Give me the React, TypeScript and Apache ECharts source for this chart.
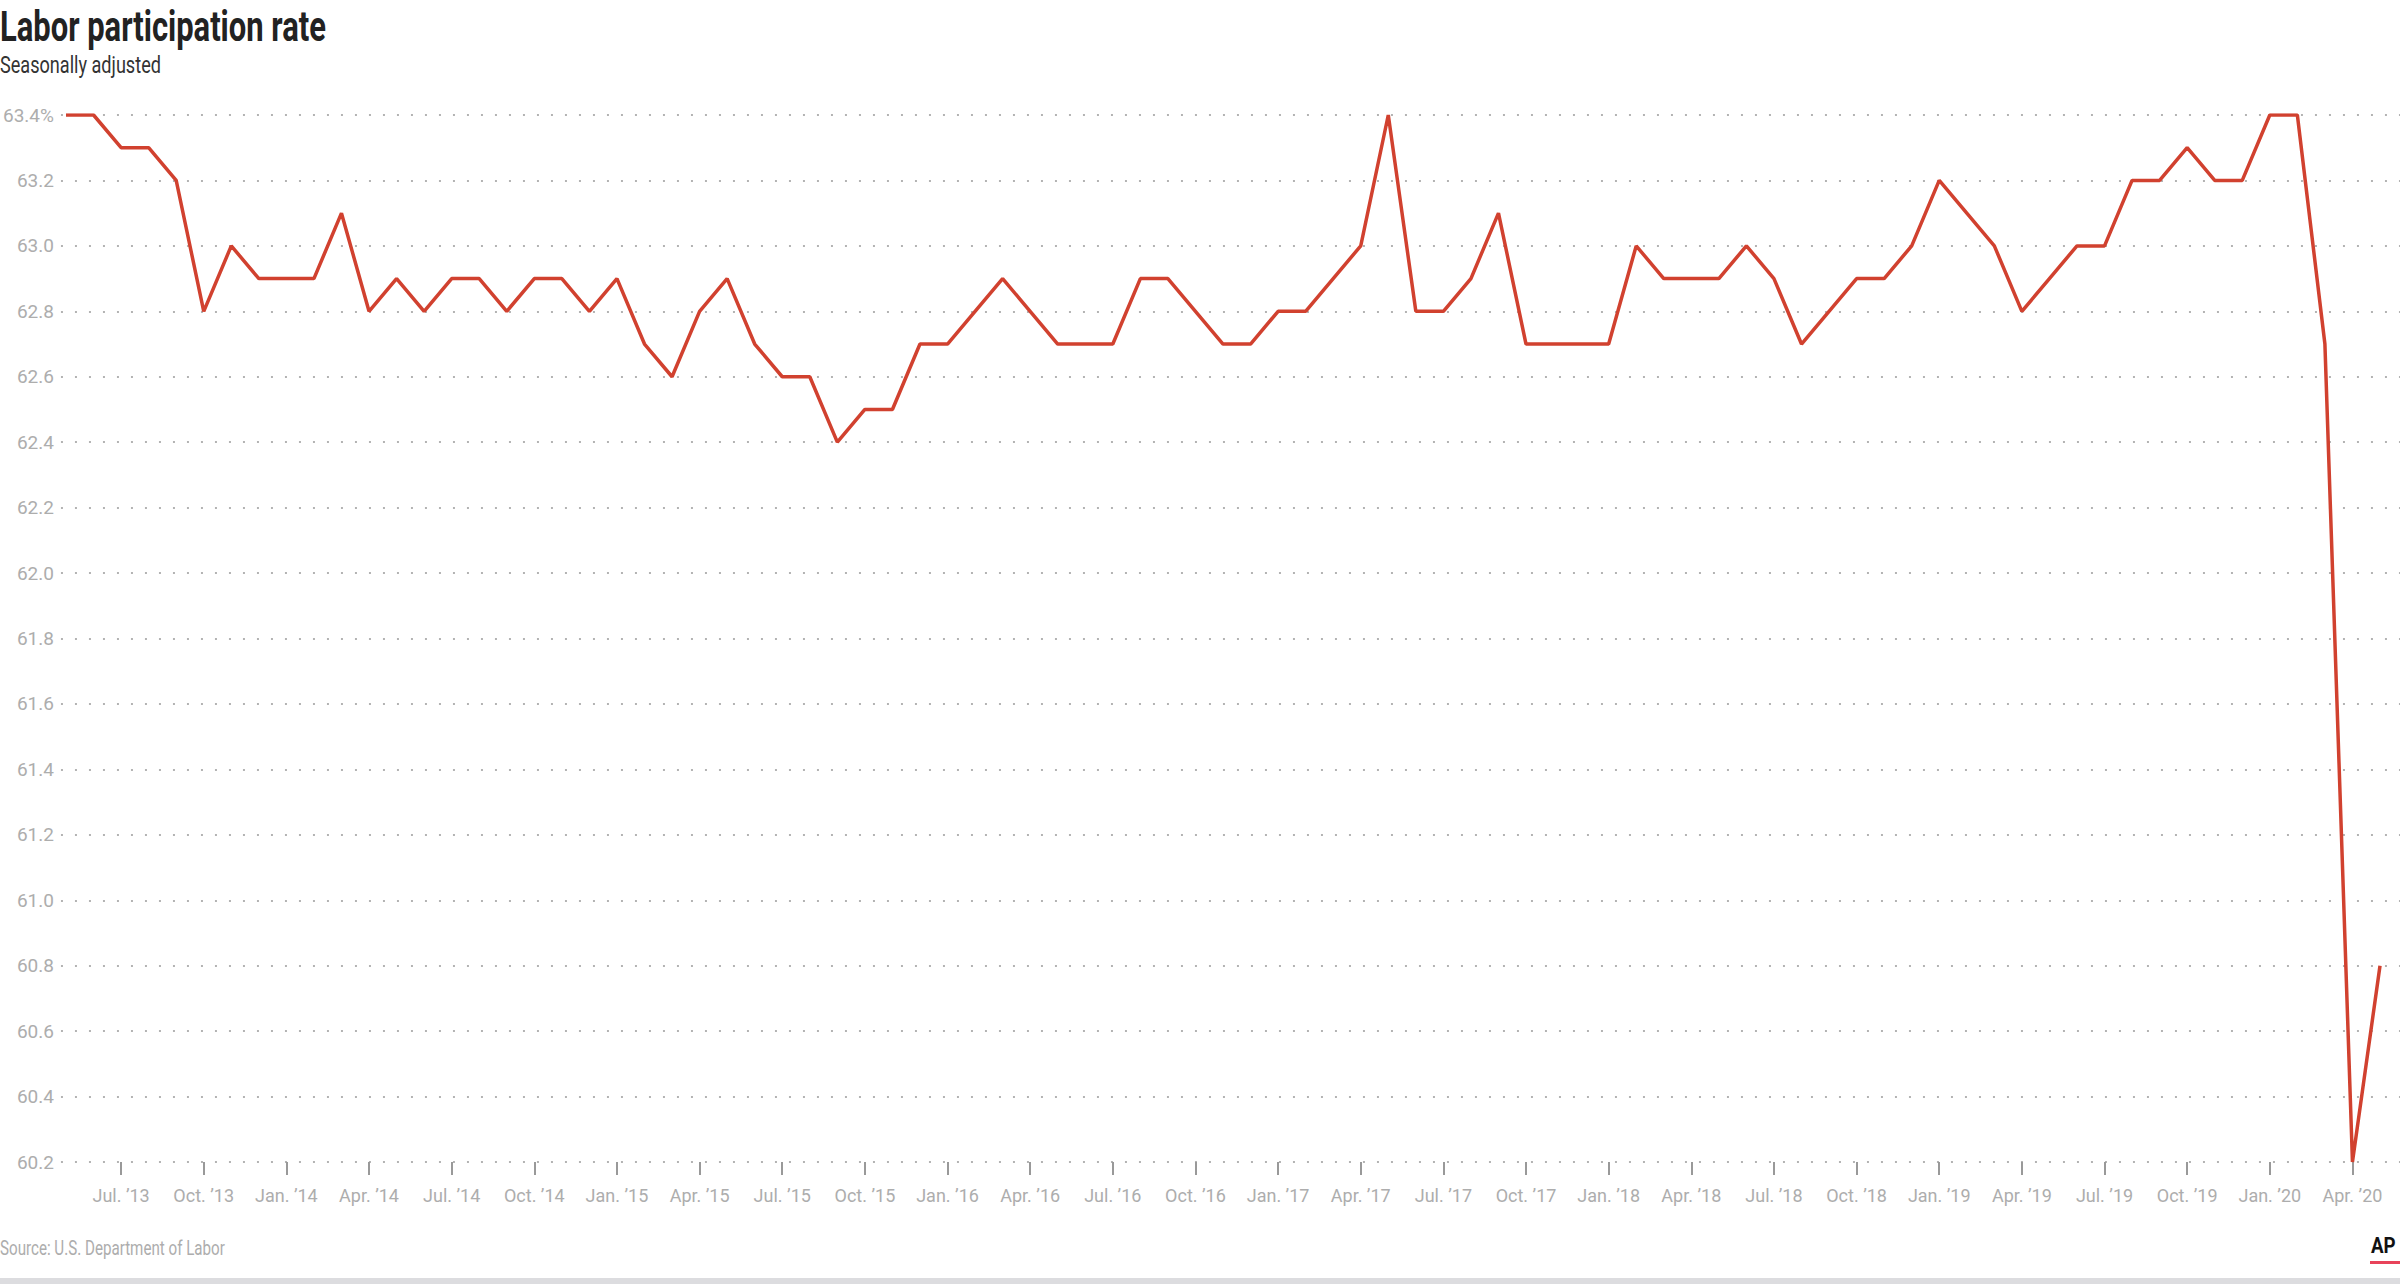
import React, { useEffect, useRef } from "react";
import * as echarts from "echarts";

const months = [
  "May13","Jun13","Jul13","Aug13","Sep13","Oct13","Nov13","Dec13",
  "Jan14","Feb14","Mar14","Apr14","May14","Jun14","Jul14","Aug14","Sep14","Oct14","Nov14","Dec14",
  "Jan15","Feb15","Mar15","Apr15","May15","Jun15","Jul15","Aug15","Sep15","Oct15","Nov15","Dec15",
  "Jan16","Feb16","Mar16","Apr16","May16","Jun16","Jul16","Aug16","Sep16","Oct16","Nov16","Dec16",
  "Jan17","Feb17","Mar17","Apr17","May17","Jun17","Jul17","Aug17","Sep17","Oct17","Nov17","Dec17",
  "Jan18","Feb18","Mar18","Apr18","May18","Jun18","Jul18","Aug18","Sep18","Oct18","Nov18","Dec18",
  "Jan19","Feb19","Mar19","Apr19","May19","Jun19","Jul19","Aug19","Sep19","Oct19","Nov19","Dec19",
  "Jan20","Feb20","Mar20","Apr20","May20",
];

const rate = [
  63.4, 63.4, 63.3, 63.3, 63.2, 62.8, 63.0, 62.9,
  62.9, 62.9, 63.1, 62.8, 62.9, 62.8, 62.9, 62.9, 62.8, 62.9, 62.9, 62.8,
  62.9, 62.7, 62.6, 62.8, 62.9, 62.7, 62.6, 62.6, 62.4, 62.5, 62.5, 62.7,
  62.7, 62.8, 62.9, 62.8, 62.7, 62.7, 62.7, 62.9, 62.9, 62.8, 62.7, 62.7,
  62.8, 62.8, 62.9, 63.0, 63.4, 62.8, 62.8, 62.9, 63.1, 62.7, 62.7, 62.7,
  62.7, 63.0, 62.9, 62.9, 62.9, 63.0, 62.9, 62.7, 62.8, 62.9, 62.9, 63.0,
  63.2, 63.1, 63.0, 62.8, 62.9, 63.0, 63.0, 63.2, 63.2, 63.3, 63.2, 63.2,
  63.4, 63.4, 62.7, 60.2, 60.8,
];

const monthLabel: Record<string, string> = { Jan: "Jan.", Apr: "Apr.", Jul: "Jul.", Oct: "Oct." };

const title = "Labor participation rate";
const subtitle = "Seasonally adjusted";
const source = "Source: U.S. Department of Labor";

const FONT = "Roboto, sans-serif";
const GRAY = "#adadad";

function measure(text: string, font: string): number {
  const c = document.createElement("canvas").getContext("2d")!;
  c.font = font;
  return c.measureText(text).width || 1;
}

export default function App() {
  const ref = useRef<HTMLDivElement>(null);
  useEffect(() => {
    document.body.style.margin = "0";
    const chart = echarts.init(ref.current!, undefined, { renderer: "svg" });
    const isQuarterTick = (i: number) => months[i].slice(0, 3) in monthLabel;

    const titleSize = 42;
    const subSize = 23;
    const srcSize = 20;
    const titleScale = 326 / measure(title, `bold ${titleSize}px Roboto`);
    const subScale = 161 / measure(subtitle, `${subSize}px Roboto`);
    const srcScale = 225 / measure(source, `${srcSize}px Roboto`);

    const option: echarts.EChartsOption = {
      animation: false,
      backgroundColor: "#fff",
      grid: [
        { left: 50, right: 0, top: 115, bottom: 122 },
        { left: 66, right: 20, top: 115, bottom: 122 },
      ],
      xAxis: [
        { type: "value", gridIndex: 0, show: false, min: 0, max: 1 },
        {
          type: "category",
          gridIndex: 1,
          data: months,
          boundaryGap: false,
          axisLine: { show: false },
          axisTick: {
            show: true,
            length: 13,
            interval: (i: number) => isQuarterTick(i),
            lineStyle: { color: "#999", width: 2 },
          },
          axisLabel: {
            interval: (i: number) => isQuarterTick(i),
            formatter: (v: string) => `${monthLabel[v.slice(0, 3)]} \u2019${v.slice(3)}`,
            color: GRAY,
            fontFamily: FONT,
            fontSize: 18,
            margin: 24,
          },
          splitLine: { show: false },
        },
      ],
      yAxis: [
        {
          type: "value",
          gridIndex: 0,
          min: 60.2,
          max: 63.4,
          interval: 0.2,
          axisLine: { show: false },
          axisTick: { show: false },
          axisLabel: {
            color: GRAY,
            fontFamily: FONT,
            fontSize: 19,
            margin: 7,
            formatter: (v: number) => (Math.abs(v - 63.4) < 1e-6 ? "63.4%" : v.toFixed(1)),
          },
          splitLine: {
            show: true,
            lineStyle: { color: "#b3b3b3", width: 2, type: [2, 12] },
          },
        },
        {
          type: "value",
          gridIndex: 1,
          min: 60.2,
          max: 63.4,
          interval: 0.2,
          show: false,
          splitLine: { show: false },
        },
      ],
      series: [
        {
          type: "line",
          xAxisIndex: 1,
          yAxisIndex: 1,
          data: rate,
          symbol: "none",
          lineStyle: { color: "#d1412f", width: 3.5 },
          z: 5,
        },
      ],
      graphic: [
        {
          type: "text",
          x: 0,
          y: 6,
          scaleX: titleScale,
          style: { text: title, fontFamily: FONT, fontWeight: "bold", fontSize: titleSize, fill: "#222", textVerticalAlign: "top" },
        },
        {
          type: "text",
          x: 0,
          y: 54,
          scaleX: subScale,
          style: { text: subtitle, fontFamily: FONT, fontSize: subSize, fill: "#333", textVerticalAlign: "top" },
        },
        {
          type: "text",
          x: 0,
          y: 1238,
          scaleX: srcScale,
          style: { text: source, fontFamily: FONT, fontSize: srcSize, fill: GRAY, textVerticalAlign: "top" },
        },
        {
          type: "text",
          x: 2371,
          y: 1234,
          scaleX: 0.85,
          style: { text: "AP", fontFamily: FONT, fontWeight: "bold", fontSize: 22, fill: "#111", textVerticalAlign: "top" },
        },
        {
          type: "rect",
          right: 0,
          top: 1261,
          shape: { width: 30, height: 3 },
          style: { fill: "#e8435a" },
        },
        {
          type: "rect",
          left: 0,
          top: 1278,
          shape: { width: 2400, height: 6 },
          style: { fill: "#dcdcdf" },
        },
      ],
    };
    chart.setOption(option);
    return () => chart.dispose();
  }, []);
  return <div ref={ref} style={{ position: "absolute", left: 0, top: 0, width: 2400, height: 1284 }} />;
}
